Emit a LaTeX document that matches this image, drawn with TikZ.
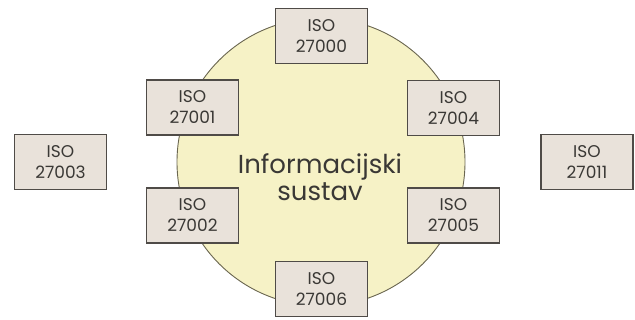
\documentclass[tikz,border=0pt]{standalone}
\usepackage{fontspec}
\setmainfont{Poppins}
\definecolor{boxfill}{HTML}{E9E2DA}
\definecolor{boxline}{HTML}{4F4B47}
\definecolor{circfill}{HTML}{F6F2C6}
\definecolor{circline}{HTML}{6A6650}
\definecolor{txt}{HTML}{3A3835}
\begin{document}
\begin{tikzpicture}[x=1pt,y=-1pt,
  isobox/.style={draw=boxline, line width=1.3pt, fill=boxfill, minimum width=92pt, minimum height=55pt, inner sep=0pt, align=center, text=txt, font=\fontsize{17}{21}\selectfont},
  sys/.style={circle, draw=circline, line width=0.9pt, fill=circfill, minimum size=288pt, inner sep=0pt}]
\useasboundingbox (0,0) rectangle (635,320);
\node[sys] (c) at (321,162) {};
\node[align=center, text=txt, font=\fontsize{26}{27}\selectfont] (t) at (320,177) {Informacijski\\sustav};
\node[isobox] (b0) at (321.5,36) {ISO\\27000};
\node[isobox] (b1) at (192.5,107.5) {ISO\\27001};
\node[isobox] (b4) at (453.5,108) {ISO\\27004};
\node[isobox] (b2) at (192.5,215.5) {ISO\\27002};
\node[isobox] (b5) at (453.5,215.5) {ISO\\27005};
\node[isobox] (b6) at (321.5,289) {ISO\\27006};
\node[isobox] (b3) at (60.5,162) {ISO\\27003};
\node[isobox] (b11) at (587,162) {ISO\\27011};
\end{tikzpicture}
\end{document}
